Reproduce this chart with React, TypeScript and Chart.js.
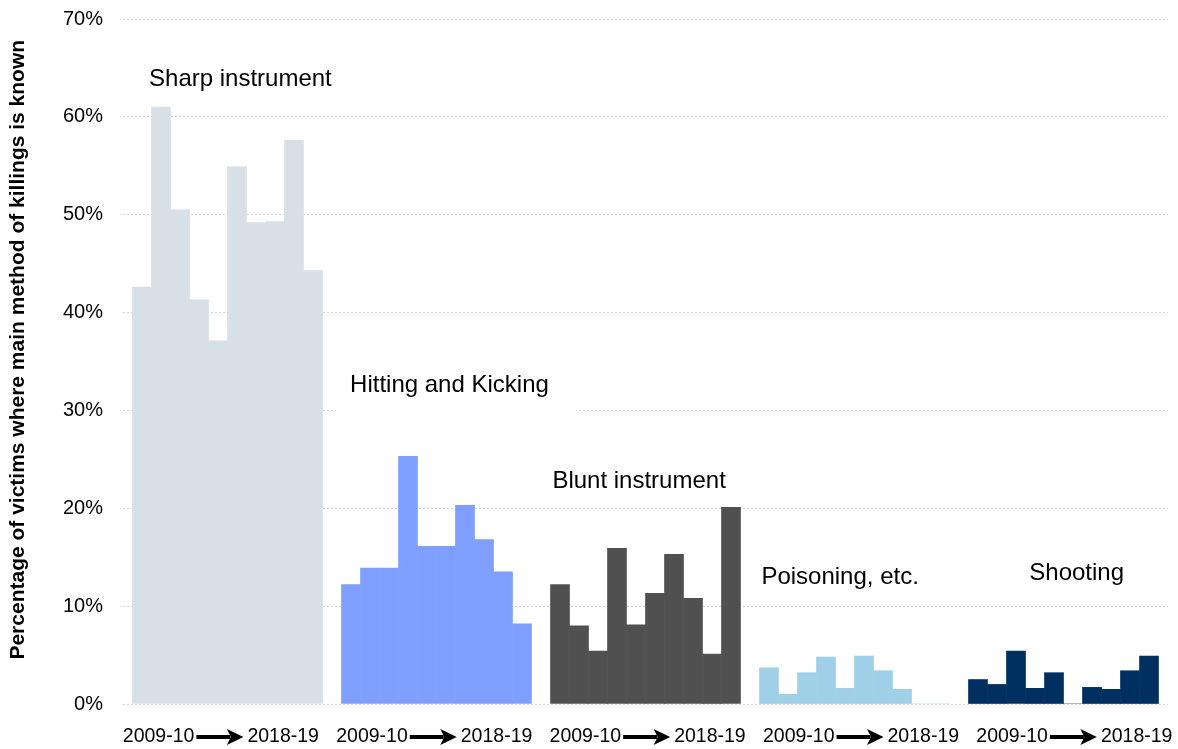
import React, { useEffect, useRef } from 'react';
import { Chart, registerables } from 'chart.js';

Chart.register(...registerables);

// ---- data ----
const years = ['2009-10', '2010-11', '2011-12', '2012-13', '2013-14', '2014-15', '2015-16', '2016-17', '2017-18', '2018-19'];
const methods = ['Sharp instrument', 'Hitting and Kicking', 'Blunt instrument', 'Poisoning, etc.', 'Shooting'];
const sharpInstrument = [42.6, 61.0, 50.5, 41.3, 37.1, 54.9, 49.2, 49.3, 57.6, 44.3];
const hittingKicking = [12.2, 13.9, 13.9, 25.3, 16.1, 16.1, 20.3, 16.8, 13.5, 8.2];
const bluntInstrument = [12.2, 8.0, 5.4, 15.9, 8.1, 11.3, 15.3, 10.8, 5.1, 20.1];
const poisoning = [3.7, 1.0, 3.2, 4.8, 1.6, 4.9, 3.4, 1.5, 0, 0];
const shooting = [2.5, 2.0, 5.4, 1.6, 3.2, 0, 1.7, 1.5, 3.4, 4.9];
const yTicks = [0, 10, 20, 30, 40, 50, 60, 70];
const axisStartLabel = years[0];
const axisEndLabel = years[years.length - 1];
const yTitle = 'Percentage of victims where main method of killings is known';

// ---- styling / layout ----
const seriesValues = [sharpInstrument, hittingKicking, bluntInstrument, poisoning, shooting];
const colors = ['#d7dfe7', '#7f9fff', '#505050', '#a0d0e8', '#003060'];
const slotsPerGroup = 11;
// label anchor (x in slot units, y in %), whether a white box sits behind it
const labelAnchors = [
  { x: 1.37, y: 63.8, box: false },
  { x: 11.95, y: 32.6, box: true },
  { x: 22.6, y: 22.8, box: false },
  { x: 33.6, y: 12.9, box: false },
  { x: 47.7, y: 13.3, box: false },
];
const FONT = '"Liberation Sans", Arial, sans-serif';

const labelsPlugin = {
  id: 'groupLabels',
  afterDatasetsDraw(chart: any) {
    const { ctx, scales } = chart;
    const xs = scales.x;
    const ys = scales.y;
    ctx.save();
    // method labels
    ctx.font = `24px ${FONT}`;
    ctx.textBaseline = 'middle';
    ctx.textAlign = 'left';
    methods.forEach((m, i) => {
      const a = labelAnchors[i];
      const px = xs.getPixelForValue(a.x);
      const py = ys.getPixelForValue(a.y);
      if (a.box) {
        const w = ctx.measureText(m).width;
        ctx.fillStyle = '#ffffff';
        ctx.fillRect(px - 14, py - 16, w + 43, 42);
      }
      ctx.fillStyle = '#000000';
      ctx.fillText(m, px, py);
    });
    // x axis labels: start -> end under each group
    ctx.font = `19.5px ${FONT}`;
    const cy = ys.bottom + 33;
    methods.forEach((_, g) => {
      const cx = xs.getPixelForValue(5.1 + 11.23 * g);
      ctx.fillStyle = '#000000';
      ctx.textAlign = 'right';
      ctx.fillText(axisStartLabel, cx - 25.5, cy);
      ctx.textAlign = 'left';
      ctx.fillText(axisEndLabel, cx + 27.5, cy);
      // arrow
      ctx.fillRect(cx - 23.5, cy - 2, 34, 4);
      ctx.beginPath();
      ctx.moveTo(cx + 7, cy - 8);
      ctx.lineTo(cx + 23.5, cy);
      ctx.lineTo(cx + 7, cy + 8);
      ctx.lineTo(cx + 11, cy);
      ctx.closePath();
      ctx.fill();
    });
    // y axis title
    ctx.save();
    ctx.translate(18, ys.getPixelForValue(36.2));
    ctx.rotate(-Math.PI / 2);
    ctx.font = `bold 21px ${FONT}`;
    ctx.textAlign = 'center';
    ctx.textBaseline = 'middle';
    ctx.fillText(yTitle, 0, 0);
    ctx.restore();
    ctx.restore();
  },
};

export default function App() {
  const ref = useRef<HTMLCanvasElement | null>(null);
  useEffect(() => {
    if (!ref.current) return;
    const datasets = seriesValues.map((vals, g) => ({
      label: methods[g],
      data: vals.map((v, j) => ({ x: g * slotsPerGroup + j + 1, y: v })),
      backgroundColor: colors[g],
      borderWidth: 0,
      grouped: false,
      barPercentage: 1,
      categoryPercentage: 1,
    }));
    const chart = new Chart(ref.current, {
      type: 'bar',
      data: { datasets },
      options: {
        animation: false,
        responsive: false,
        devicePixelRatio: 1,
        layout: { padding: { top: 19, right: 10, left: 0, bottom: 0 } },
        plugins: { legend: { display: false }, tooltip: { enabled: false }, title: { display: false } },
        scales: {
          x: {
            type: 'linear',
            min: 0,
            max: slotsPerGroup * methods.length,
            offset: false,
            ticks: { display: false },
            grid: { display: false },
            border: { display: false },
            afterFit: (s: any) => { s.height = 45; },
          },
          y: {
            min: 0,
            max: 70,
            afterBuildTicks: (s: any) => { s.ticks = yTicks.map((v) => ({ value: v })); },
            ticks: {
              callback: (v: any) => `${v}%`,
              font: { family: FONT, size: 20 },
              color: '#000000',
              padding: 20,
            },
            grid: { color: '#d6d6d6', drawTicks: false, lineWidth: 1 },
            border: { display: false, dash: [2, 2] },
            afterFit: (s: any) => {
              s.width = 123;
              s.paddingTop = 0;
              s.paddingBottom = 0;
            },
          },
        },
      },
      plugins: [labelsPlugin],
    } as any);
    return () => chart.destroy();
  }, []);
  return (
    <div style={{ position: 'absolute', left: 0, top: 0, width: 1178, height: 749 }}>
      <canvas ref={ref} width={1178} height={749} style={{ display: 'block' }} />
    </div>
  );
}
